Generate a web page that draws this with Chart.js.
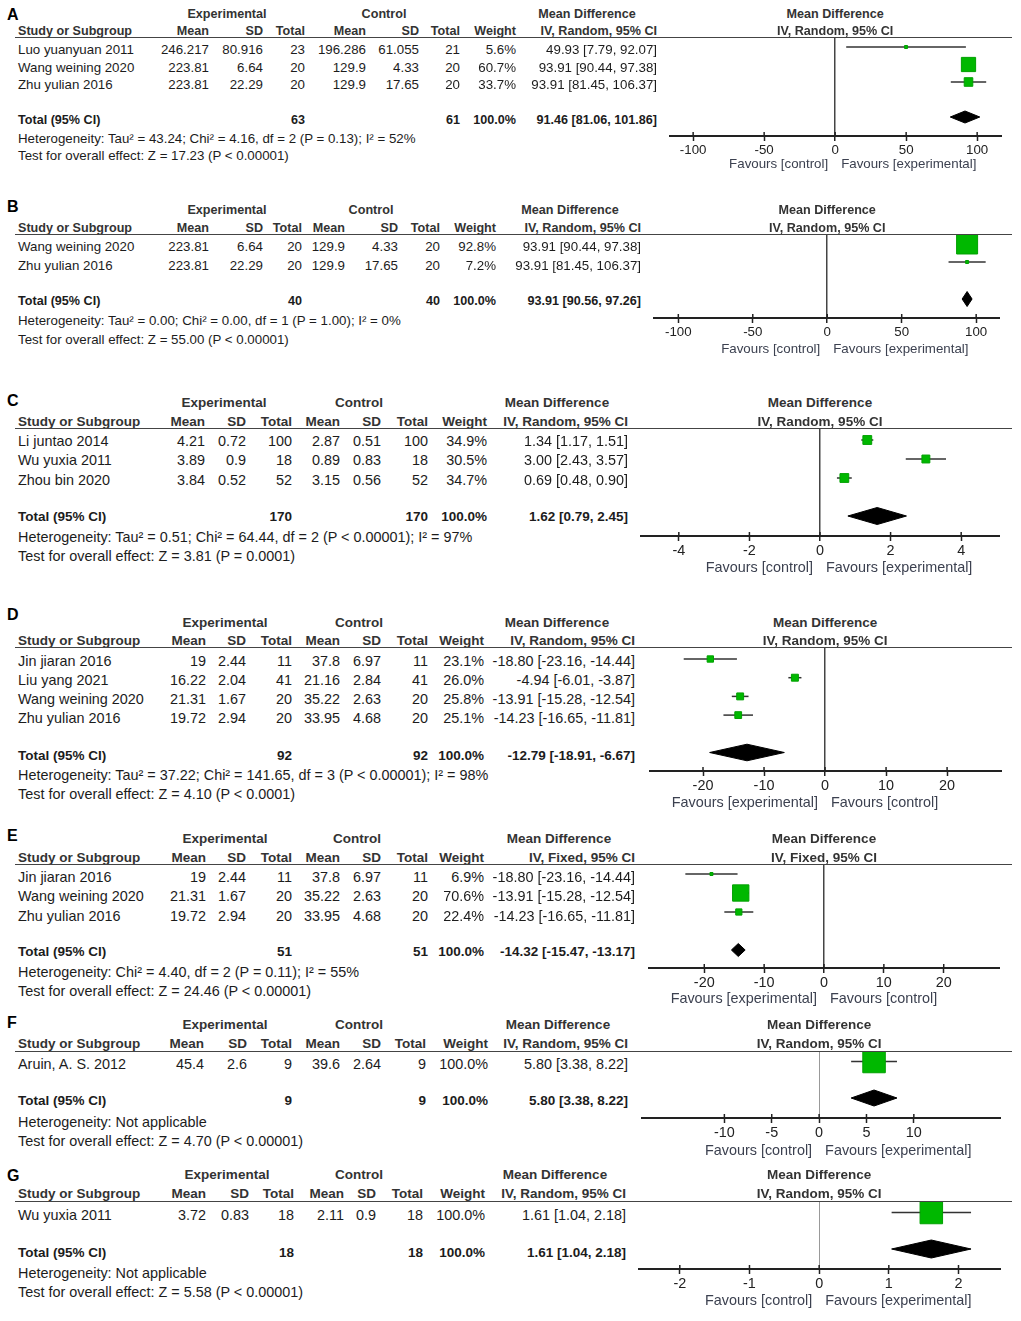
<!DOCTYPE html>
<html>
<head>
<meta charset="utf-8">
<script src="https://cdn.jsdelivr.net/npm/chart.js@4.4.1/dist/chart.umd.min.js"></script>
<style>
    html, body { margin: 0; padding: 0; background: #fff; }
    #page { position: relative; width: 1021px; height: 1321px; overflow: hidden;
            font-family: "Liberation Sans", Arial, sans-serif; color: #1c1c1c; }
    .t { position: absolute; white-space: nowrap; }
    .hl { position: absolute; height: 0; border-top: 1.5px solid #444; }
    .plot { position: absolute; }
</style>
</head>
<body>
<div id="page"></div>
<script>
// Column headers shared by every panel
const colHeads = ['Mean', 'SD', 'Total', 'Mean', 'SD', 'Total', 'Weight'];

// Rows: study, exp mean, exp SD, exp N, ctl mean, ctl SD, ctl N, weight %, MD, lower, upper
const rowsA = [
    ['Luo yuanyuan 2011', 246.217, 80.916, 23, 196.286, 61.055, 21, 5.6, 49.93, 7.79, 92.07],
    ['Wang weining 2020', 223.81, 6.64, 20, 129.9, 4.33, 20, 60.7, 93.91, 90.44, 97.38],
    ['Zhu yulian 2016', 223.81, 22.29, 20, 129.9, 17.65, 20, 33.7, 93.91, 81.45, 106.37]
];
const totalA = [63, 61, 100.0, 91.46, 81.06, 101.86];
const hetA = 'Heterogeneity: Tau\u00b2 = 43.24; Chi\u00b2 = 4.16, df = 2 (P = 0.13); I\u00b2 = 52%';
const testA = 'Test for overall effect: Z = 17.23 (P < 0.00001)';
const ticksA = [-100, -50, 0, 50, 100];

const rowsB = [
    ['Wang weining 2020', 223.81, 6.64, 20, 129.9, 4.33, 20, 92.8, 93.91, 90.44, 97.38],
    ['Zhu yulian 2016', 223.81, 22.29, 20, 129.9, 17.65, 20, 7.2, 93.91, 81.45, 106.37]
];
const totalB = [40, 40, 100.0, 93.91, 90.56, 97.26];
const hetB = 'Heterogeneity: Tau\u00b2 = 0.00; Chi\u00b2 = 0.00, df = 1 (P = 1.00); I\u00b2 = 0%';
const testB = 'Test for overall effect: Z = 55.00 (P < 0.00001)';
const ticksB = [-100, -50, 0, 50, 100];

const rowsC = [
    ['Li juntao 2014', 4.21, 0.72, 100, 2.87, 0.51, 100, 34.9, 1.34, 1.17, 1.51],
    ['Wu yuxia 2011', 3.89, 0.9, 18, 0.89, 0.83, 18, 30.5, 3.00, 2.43, 3.57],
    ['Zhou bin 2020', 3.84, 0.52, 52, 3.15, 0.56, 52, 34.7, 0.69, 0.48, 0.90]
];
const totalC = [170, 170, 100.0, 1.62, 0.79, 2.45];
const hetC = 'Heterogeneity: Tau\u00b2 = 0.51; Chi\u00b2 = 64.44, df = 2 (P < 0.00001); I\u00b2 = 97%';
const testC = 'Test for overall effect: Z = 3.81 (P = 0.0001)';
const ticksC = [-4, -2, 0, 2, 4];

const rowsD = [
    ['Jin jiaran 2016', 19, 2.44, 11, 37.8, 6.97, 11, 23.1, -18.80, -23.16, -14.44],
    ['Liu yang 2021', 16.22, 2.04, 41, 21.16, 2.84, 41, 26.0, -4.94, -6.01, -3.87],
    ['Wang weining 2020', 21.31, 1.67, 20, 35.22, 2.63, 20, 25.8, -13.91, -15.28, -12.54],
    ['Zhu yulian 2016', 19.72, 2.94, 20, 33.95, 4.68, 20, 25.1, -14.23, -16.65, -11.81]
];
const totalD = [92, 92, 100.0, -12.79, -18.91, -6.67];
const hetD = 'Heterogeneity: Tau\u00b2 = 37.22; Chi\u00b2 = 141.65, df = 3 (P < 0.00001); I\u00b2 = 98%';
const testD = 'Test for overall effect: Z = 4.10 (P < 0.0001)';
const ticksD = [-20, -10, 0, 10, 20];

const rowsE = [
    ['Jin jiaran 2016', 19, 2.44, 11, 37.8, 6.97, 11, 6.9, -18.80, -23.16, -14.44],
    ['Wang weining 2020', 21.31, 1.67, 20, 35.22, 2.63, 20, 70.6, -13.91, -15.28, -12.54],
    ['Zhu yulian 2016', 19.72, 2.94, 20, 33.95, 4.68, 20, 22.4, -14.23, -16.65, -11.81]
];
const totalE = [51, 51, 100.0, -14.32, -15.47, -13.17];
const hetE = 'Heterogeneity: Chi\u00b2 = 4.40, df = 2 (P = 0.11); I\u00b2 = 55%';
const testE = 'Test for overall effect: Z = 24.46 (P < 0.00001)';
const ticksE = [-20, -10, 0, 10, 20];

const rowsF = [
    ['Aruin, A. S. 2012', 45.4, 2.6, 9, 39.6, 2.64, 9, 100.0, 5.80, 3.38, 8.22]
];
const totalF = [9, 9, 100.0, 5.80, 3.38, 8.22];
const hetF = 'Heterogeneity: Not applicable';
const testF = 'Test for overall effect: Z = 4.70 (P < 0.00001)';
const ticksF = [-10, -5, 0, 5, 10];

const rowsG = [
    ['Wu yuxia 2011', 3.72, 0.83, 18, 2.11, 0.9, 18, 100.0, 1.61, 1.04, 2.18]
];
const totalG = [18, 18, 100.0, 1.61, 1.04, 2.18];
const hetG = 'Heterogeneity: Not applicable';
const testG = 'Test for overall effect: Z = 5.58 (P < 0.00001)';
const ticksG = [-2, -1, 0, 1, 2];

const favCtlExp = ['Favours [control]', 'Favours [experimental]'];
const favExpCtl = ['Favours [experimental]', 'Favours [control]'];

// Layout (pixel positions) for each panel
const layoutA = { fs: 13.3, fb: 12.6, letterY: 14, h1Y: 14, h2Y: 31, lineY: 38, expX: 227, ctlX: 384, mdX: 587,
    cols: [209, 263, 305, 366, 419, 460, 516, 657], rowY: 50, rowStep: 17.5, totY: 120, hetY: 139, testY: 156,
    axisL: 669, axisR: 1002, axisY: 136, min: -117, max: 117.5, markY: 47, markStep: 17.5, diamond: 6,
    favY: 164, zeroColor: '#444', zeroWidth: 1.5 };
const layoutB = { fs: 13.3, fb: 12.6, letterY: 206, h1Y: 210, h2Y: 228, lineY: 235, expX: 227, ctlX: 371, mdX: 570,
    cols: [209, 263, 302, 345, 398, 440, 496, 641], rowY: 247, rowStep: 19, totY: 301, hetY: 321, testY: 340,
    axisL: 653, axisR: 1000, axisY: 318, min: -117, max: 116, markY: 243.5, markStep: 18.5, diamond: 7.5,
    favY: 349, zeroColor: '#444', zeroWidth: 1.5 };
const layoutC = { fs: 14.4, fb: 13.5, letterY: 400, h1Y: 403, h2Y: 422, lineY: 429, expX: 224, ctlX: 359, mdX: 557,
    cols: [205, 246, 292, 340, 381, 428, 487, 628], rowY: 441, rowStep: 19.5, totY: 517, hetY: 537, testY: 556,
    axisL: 640, axisR: 1000, axisY: 536, min: -5.1, max: 5.1, markY: 440, markStep: 19, diamond: 8.5,
    favY: 567, zeroColor: '#444', zeroWidth: 1.5 };
const layoutD = { fs: 14.4, fb: 13.5, letterY: 614, h1Y: 623, h2Y: 641, lineY: 648, expX: 225, ctlX: 359, mdX: 557,
    cols: [206, 246, 292, 340, 381, 428, 484, 635], rowY: 661, rowStep: 19, totY: 756, hetY: 775, testY: 794,
    axisL: 649, axisR: 1002, axisY: 771, min: -28.85, max: 29, markY: 659, markStep: 18.7, diamond: 8.3,
    favY: 802, zeroColor: '#444', zeroWidth: 1.5 };
const layoutE = { fs: 14.4, fb: 13.5, letterY: 835, h1Y: 839, h2Y: 858, lineY: 865, expX: 225, ctlX: 357, mdX: 559,
    cols: [206, 246, 292, 340, 381, 428, 484, 635], rowY: 877, rowStep: 19.5, totY: 952, hetY: 972, testY: 991,
    axisL: 648, axisR: 1000, axisY: 968, min: -29.4, max: 29.4, markY: 874, markStep: 19, diamond: 6.5,
    favY: 998, zeroColor: '#444', zeroWidth: 1.5 };
const layoutF = { fs: 14.4, fb: 13.5, letterY: 1022, h1Y: 1025, h2Y: 1044, lineY: 1052, expX: 225, ctlX: 359, mdX: 558,
    cols: [204, 247, 292, 340, 381, 426, 488, 628], rowY: 1064, rowStep: 19, totY: 1101, hetY: 1122, testY: 1141,
    axisL: 641, axisR: 1001, axisY: 1118, min: -18.8, max: 19.2, markY: 1061.5, markStep: 18.25, diamond: 8,
    favY: 1150, zeroColor: '#999', zeroWidth: 1 };
const layoutG = { fs: 14.4, fb: 13.5, letterY: 1175, h1Y: 1175, h2Y: 1194, lineY: 1202, expX: 227, ctlX: 359, mdX: 555,
    cols: [206, 249, 294, 344, 376, 423, 485, 626], rowY: 1215, rowStep: 19, totY: 1253, hetY: 1273, testY: 1292,
    axisL: 638, axisR: 1001, axisY: 1269, min: -2.6, max: 2.61, markY: 1212.5, markStep: 18.25, diamond: 9,
    favY: 1300, zeroColor: '#999', zeroWidth: 1 };

const panels = [
    { key: 'A', rows: rowsA, total: totalA, het: hetA, test: testA, ticks: ticksA, method: 'IV, Random, 95% CI', fav: favCtlExp, L: layoutA },
    { key: 'B', rows: rowsB, total: totalB, het: hetB, test: testB, ticks: ticksB, method: 'IV, Random, 95% CI', fav: favCtlExp, L: layoutB },
    { key: 'C', rows: rowsC, total: totalC, het: hetC, test: testC, ticks: ticksC, method: 'IV, Random, 95% CI', fav: favCtlExp, L: layoutC },
    { key: 'D', rows: rowsD, total: totalD, het: hetD, test: testD, ticks: ticksD, method: 'IV, Random, 95% CI', fav: favExpCtl, L: layoutD },
    { key: 'E', rows: rowsE, total: totalE, het: hetE, test: testE, ticks: ticksE, method: 'IV, Fixed, 95% CI', fav: favExpCtl, L: layoutE },
    { key: 'F', rows: rowsF, total: totalF, het: hetF, test: testF, ticks: ticksF, method: 'IV, Random, 95% CI', fav: favCtlExp, L: layoutF },
    { key: 'G', rows: rowsG, total: totalG, het: hetG, test: testG, ticks: ticksG, method: 'IV, Random, 95% CI', fav: favCtlExp, L: layoutG }
];

const page = document.getElementById('page');

function txt(s, x, y, align, size, bold, color) {
    const e = document.createElement('div');
    e.className = 't';
    e.textContent = s;
    e.style.fontSize = size + 'px';
    e.style.lineHeight = Math.round(size * 1.2) + 'px';
    e.style.top = (y - Math.round(size * 1.2) / 2) + 'px';
    e.style.left = x + 'px';
    if (bold) e.style.fontWeight = 'bold';
    if (color) e.style.color = color;
    if (align === 'right') e.style.transform = 'translateX(-100%)';
    else if (align === 'center') e.style.transform = 'translateX(-50%)';
    page.appendChild(e);
    return e;
}

function ciText(md, lo, hi) {
    return `${md.toFixed(2)} [${lo.toFixed(2)}, ${hi.toFixed(2)}]`;
}

// square side grows with the study weight
function boxSide(w) {
    return Math.max(3, 0.21 * w + 1.5);
}

// tick marks that cross the axis line (RevMan style)
const crossTicks = {
    id: 'crossTicks',
    afterDraw(chart) {
        const sx = chart.scales.x, ctx = chart.ctx, yb = chart.chartArea.bottom;
        ctx.save();
        ctx.strokeStyle = '#222';
        ctx.lineWidth = 1.5;
        sx.ticks.forEach(t => {
            const px = sx.getPixelForValue(t.value);
            ctx.beginPath();
            ctx.moveTo(px, yb - 4);
            ctx.lineTo(px, yb);
            ctx.stroke();
        });
        ctx.restore();
    }
};

function buildChart(p) {
    const L = p.L;
    const axisH = 34;
    const w = L.axisR - L.axisL, h = L.axisY - L.lineY + axisH;
    const wrap = document.createElement('div');
    wrap.className = 'plot';
    wrap.style.left = L.axisL + 'px';
    wrap.style.top = L.lineY + 'px';
    wrap.style.width = w + 'px';
    wrap.style.height = h + 'px';
    const cv = document.createElement('canvas');
    cv.width = w;
    cv.height = h;
    cv.style.width = w + 'px';
    cv.style.height = h + 'px';
    wrap.appendChild(cv);
    page.appendChild(wrap);

    const datasets = [];
    p.rows.forEach((r, i) => {
        const y = i + 1;
        datasets.push({
            data: [{ x: r[9], y }, { x: r[10], y }],
            showLine: true, borderColor: '#333', borderWidth: 1.5, pointRadius: 0, order: 2
        });
        datasets.push({
            data: [{ x: r[8], y }],
            pointStyle: 'rect', pointRadius: boxSide(r[7]) / Math.SQRT2,
            backgroundColor: '#00b800', borderColor: '#00a000', borderWidth: 1, order: 1
        });
    });
    const ty = p.rows.length + 2;
    const hh = L.diamond / L.markStep;
    const t = p.total;
    datasets.push({
        data: [{ x: t[4], y: ty }, { x: t[3], y: ty - hh }, { x: t[5], y: ty }],
        showLine: true, borderColor: '#000', borderWidth: 1, pointRadius: 0, fill: false, order: 3
    });
    datasets.push({
        data: [{ x: t[4], y: ty }, { x: t[3], y: ty + hh }, { x: t[5], y: ty }],
        showLine: true, borderColor: '#000', borderWidth: 1, pointRadius: 0,
        fill: '-1', backgroundColor: '#000', order: 3
    });

    const yMin = 1 - (L.markY - L.lineY) / L.markStep;
    const yMax = 1 + (L.axisY - L.markY) / L.markStep;

    const chart = new Chart(cv, {
        type: 'scatter',
        data: { datasets },
        options: {
            responsive: false,
            animation: false,
            events: [],
            layout: { padding: 0, autoPadding: false },
            plugins: { legend: { display: false }, tooltip: { enabled: false } },
            scales: {
                x: {
                    type: 'linear', min: L.min, max: L.max,
                    afterBuildTicks: s => { s.ticks = p.ticks.map(v => ({ value: v })); },
                    afterFit: s => { s.height = axisH; },
                    border: { display: true, color: '#222', width: 2 },
                    grid: {
                        drawOnChartArea: true,
                        color: c => (c.tick && c.tick.value === 0) ? L.zeroColor : 'rgba(0,0,0,0)',
                        lineWidth: c => (c.tick && c.tick.value === 0) ? L.zeroWidth : 1,
                        tickColor: '#222', tickWidth: 1.5, tickLength: 5
                    },
                    ticks: {
                        autoSkip: false, maxRotation: 0, padding: 1, color: '#222',
                        font: { family: '"Liberation Sans", Arial, sans-serif', size: L.fs },
                        callback: v => String(v)
                    }
                },
                y: { type: 'linear', display: false, reverse: true, min: yMin, max: yMax }
            }
        },
        plugins: [crossTicks]
    });
    return L.axisL + chart.scales.x.getPixelForValue(0);
}

panels.forEach(p => {
    const L = p.L, fs = L.fs, fb = L.fb;
    const zeroX = buildChart(p);

    txt(p.key, 7, L.letterY, 'left', 16, true, '#000');
    txt('Experimental', L.expX, L.h1Y, 'center', fb, true, '#333');
    txt('Control', L.ctlX, L.h1Y, 'center', fb, true, '#333');
    txt('Mean Difference', L.mdX, L.h1Y, 'center', fb, true, '#333');
    txt('Mean Difference', zeroX, L.h1Y, 'center', fb, true, '#333');

    txt('Study or Subgroup', 18, L.h2Y, 'left', fb, true, '#333');
    colHeads.forEach((hd, j) => txt(hd, L.cols[j], L.h2Y, 'right', fb, true, '#333'));
    txt(p.method, L.cols[7], L.h2Y, 'right', fb, true, '#333');
    txt(p.method, zeroX, L.h2Y, 'center', fb, true, '#333');

    const hl = document.createElement('div');
    hl.className = 'hl';
    hl.style.left = '15px';
    hl.style.width = '997px';
    hl.style.top = (L.lineY - 1) + 'px';
    page.appendChild(hl);

    p.rows.forEach((r, i) => {
        const y = L.rowY + i * L.rowStep;
        txt(r[0], 18, y, 'left', fs);
        for (let j = 1; j <= 6; j++) txt(String(r[j]), L.cols[j - 1], y, 'right', fs);
        txt(r[7].toFixed(1) + '%', L.cols[6], y, 'right', fs);
        txt(ciText(r[8], r[9], r[10]), L.cols[7], y, 'right', fs);
    });

    const t = p.total;
    txt('Total (95% CI)', 18, L.totY, 'left', fb, true);
    txt(String(t[0]), L.cols[2], L.totY, 'right', fb, true);
    txt(String(t[1]), L.cols[5], L.totY, 'right', fb, true);
    txt(t[2].toFixed(1) + '%', L.cols[6], L.totY, 'right', fb, true);
    txt(ciText(t[3], t[4], t[5]), L.cols[7], L.totY, 'right', fb, true);
    txt(p.het, 18, L.hetY, 'left', fs);
    txt(p.test, 18, L.testY, 'left', fs);

    txt(p.fav[0], zeroX - 7, L.favY, 'right', fs, false, '#3c4150');
    txt(p.fav[1], zeroX + 6, L.favY, 'left', fs, false, '#3c4150');
});
</script>
</body>
</html>
